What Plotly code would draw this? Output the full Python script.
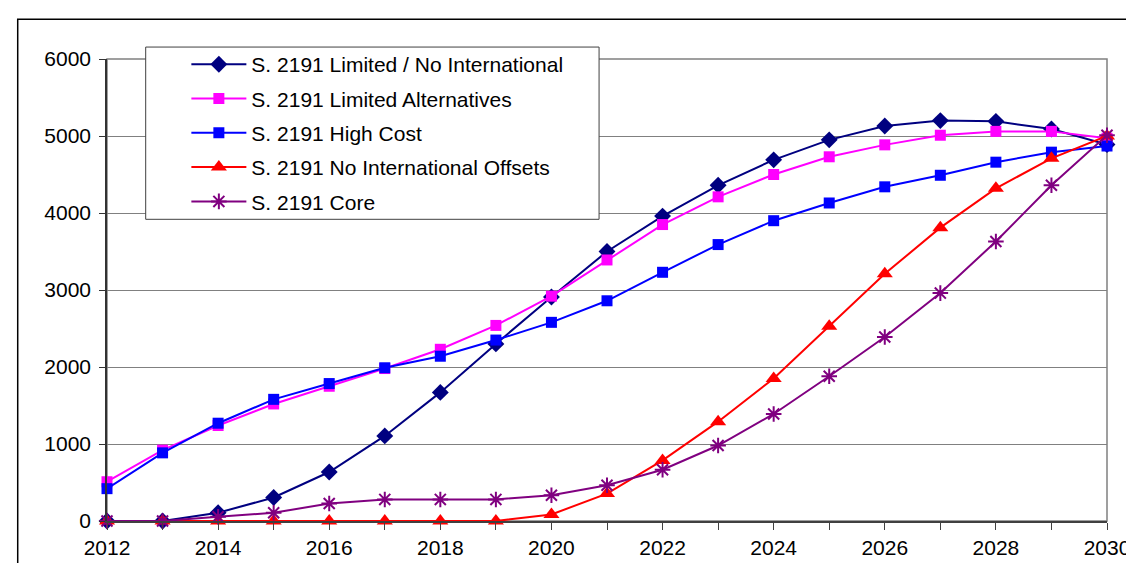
import plotly.graph_objects as go

years = list(range(2012, 2031))
tick_labels = [str(y) if y % 2 == 0 else "" for y in years]

limited_no_intl = [0, 0, 107, 305, 636, 1105, 1670, 2300, 2910, 3500, 3960, 4360, 4690, 4950, 5130, 5200, 5190, 5090, 4890]
limited_alt = [510, 920, 1240, 1520, 1750, 1980, 2230, 2540, 2920, 3390, 3850, 4210, 4500, 4730, 4885, 5010, 5060, 5060, 4970]
high_cost = [420, 885, 1270, 1580, 1785, 1990, 2140, 2350, 2580, 2860, 3230, 3590, 3900, 4130, 4340, 4490, 4660, 4790, 4870]
no_intl_offsets = [0, 0, 0, 0, 0, 0, 0, 0, 85, 356, 787, 1290, 1850, 2530, 3210, 3810, 4320, 4710, 5000]
core = [0, 0, 55, 107, 227, 280, 280, 280, 335, 465, 666, 980, 1390, 1880, 2390, 2960, 3630, 4360, 5010]

series = [
    ("S. 2191 Limited / No International", limited_no_intl, "#000080", "diamond", 13),
    ("S. 2191 Limited Alternatives", limited_alt, "#FF00FF", "square", 11),
    ("S. 2191 High Cost", high_cost, "#0000FF", "square", 11),
    ("S. 2191 No International Offsets", no_intl_offsets, "#FF0000", "triangle-up", 14),
    ("S. 2191 Core", core, "#800080", "asterisk-open", 13),
]

FONT = "Liberation Sans, Arial, sans-serif"

fig = go.Figure()
for i, (name, vals, color, sym, size) in enumerate(series):
    marker = dict(symbol=sym, size=size, color=color)
    if sym.endswith("open"):
        marker["line"] = dict(color=color, width=2)
    fig.add_trace(go.Scatter(
        x=years, y=vals, name=name, mode="lines+markers",
        line=dict(color=color, width=2), marker=marker,
        legendgroup="g%d" % i, cliponaxis=False,
    ))

W, H = 1134, 563
L, R, T, B = 99, 27, 51, 48
pw, ph = W - L - R, H - T - B

def px_x(p):
    return (p - L) / pw

def px_y(p):
    return (H - B - p) / ph

shapes = [
    # outer chart border
    dict(type="rect", xref="paper", yref="paper",
         x0=px_x(9), x1=px_x(1145), y0=px_y(575), y1=px_y(11),
         line=dict(color="#000000", width=1.5), fillcolor="rgba(0,0,0,0)", layer="below"),
    # plot area border
    dict(type="rect", xref="paper", yref="paper", x0=0, x1=1, y0=0, y1=1,
         line=dict(color="#808080", width=1.5), fillcolor="rgba(0,0,0,0)", layer="below"),
    # legend box
    dict(type="rect", xref="paper", yref="paper",
         x0=px_x(138), x1=px_x(595), y0=px_y(212), y1=px_y(39),
         line=dict(color="#404040", width=1), fillcolor="white", layer="above"),
]

fig.update_layout(
    width=W, height=H,
    margin=dict(l=L, r=R, t=T, b=B),
    paper_bgcolor="white", plot_bgcolor="white",
    font=dict(family=FONT, size=21, color="#000000"),
    showlegend=True,
    legend=dict(
        x=px_x(179), y=px_y(36), xanchor="left", yanchor="top",
        bgcolor="rgba(0,0,0,0)", borderwidth=0,
        font=dict(family=FONT, size=21, color="#000000"),
        itemwidth=55, tracegroupgap=4, traceorder="grouped",
    ),
    shapes=shapes,
    xaxis=dict(
        range=[2012, 2030], tickvals=years, ticktext=tick_labels,
        showgrid=False, zeroline=False,
        showline=True, linecolor="#404040", linewidth=2,
        ticks="outside", ticklen=7, tickcolor="#404040", tickwidth=1,
        tickfont=dict(family=FONT, size=21),
    ),
    yaxis=dict(
        range=[0, 6000], dtick=1000, tickformat="d",
        showgrid=True, gridcolor="#808080", gridwidth=1.2,
        zeroline=False,
        showline=True, linecolor="#333333", linewidth=1.5,
        ticks="outside", ticklen=6, tickcolor="#333333", tickwidth=1,
        ticklabelstandoff=4,
        tickfont=dict(family=FONT, size=21),
    ),
)

fig.write_html("out.html")
